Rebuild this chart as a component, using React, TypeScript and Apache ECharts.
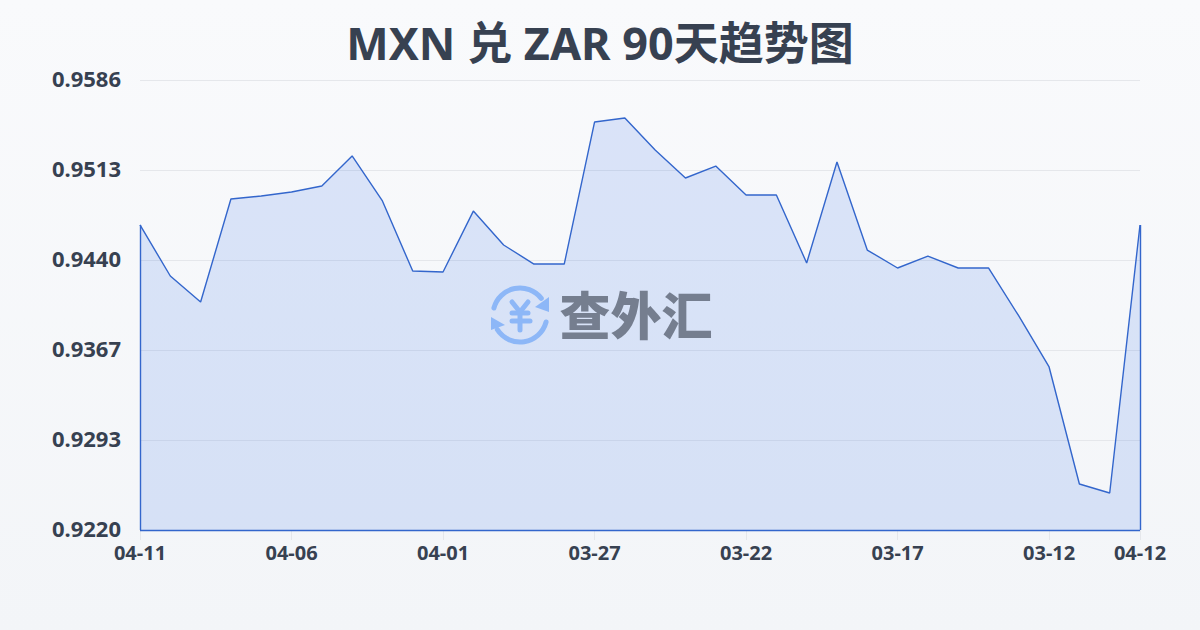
import React, { useEffect, useRef } from "react";
import * as echarts from "echarts";

const titleText = "MXN 兑 ZAR 90天趋势图";
const watermarkText = "查外汇";
const categories = [
  "04-11","04-10","04-09","04-08","04-07","04-06","04-05","04-04","04-03","04-02","04-01",
  "03-31","03-30","03-29","03-28","03-27","03-26","03-25","03-24","03-23","03-22",
  "03-21","03-20","03-19","03-18","03-17","03-16","03-15","03-14","03-13","03-12",
  "03-11","03-10","04-12",
];
const rates = [
  0.94681,0.94266,0.94054,0.94892,0.94917,0.94949,0.94998,0.95242,0.94876,0.94306,0.94298,
  0.94794,0.94518,0.94363,0.94363,0.95518,0.95551,0.95291,0.95063,0.9516,0.94925,
  0.94925,0.94372,0.95193,0.94477,0.94331,0.94428,0.94331,0.94331,0.93941,0.93526,
  0.92574,0.92501,0.94681,
];
const yTicks = [0.922, 0.92932, 0.93664, 0.94396, 0.95128, 0.9586];
const yTickLabels = ["0.9220", "0.9293", "0.9367", "0.9440", "0.9513", "0.9586"];
const yMin = 0.922;
const yMax = 0.9586;

const showIndex = (i: number) => i % 5 === 0 || i === categories.length - 1;

const INK = "#374151";
const BLUE = "#3366cc";
const ICON = "#8db7f7";

const iconLine = (x1: number, y1: number, x2: number, y2: number) => ({
  type: "line",
  shape: { x1, y1, x2, y2 },
  style: { stroke: ICON, lineWidth: 5, lineCap: "round" },
  z: 20,
});

export default function App() {
  const ref = useRef<HTMLDivElement>(null);
  useEffect(() => {
    document.body.style.margin = "0";
    const chart = echarts.init(ref.current!, undefined, { renderer: "svg" });
    const last = categories.length - 1;
    chart.setOption({
      animation: false,
      backgroundColor: "transparent",
      title: {
        text: titleText,
        left: "center",
        top: 15,
        textStyle: {
          color: INK,
          fontSize: 45,
          fontWeight: 700,
          fontFamily: "'Noto Sans', 'Noto Sans CJK SC', sans-serif",
        },
      },
      grid: { left: 140, right: 60, top: 80, bottom: 100 },
      xAxis: {
        type: "category",
        data: categories,
        boundaryGap: false,
        axisLine: { show: false },
        axisTick: {
          show: true,
          length: 10,
          interval: (i: number) => showIndex(i),
          lineStyle: { color: "#e5e7eb", width: 1 },
        },
        axisLabel: {
          interval: (i: number) => showIndex(i),
          color: INK,
          fontSize: 20,
          fontWeight: 700,
          margin: 12,
          fontFamily: "'Noto Sans', sans-serif",
        },
        splitLine: { show: false },
      },
      yAxis: {
        type: "value",
        min: yMin,
        max: yMax,
        axisLine: { show: false },
        axisTick: { show: false, customValues: yTicks },
        axisLabel: {
          customValues: yTicks,
          formatter: (v: number) => yTickLabels[yTicks.findIndex((t) => Math.abs(t - v) < 1e-6)],
          color: INK,
          fontSize: 22,
          fontWeight: 700,
          margin: 19,
          verticalAlign: "bottom",
          lineHeight: 5,
          fontFamily: "'Noto Sans', sans-serif",
        },
        splitLine: { show: true, lineStyle: { color: "#e5e7eb", width: 1 } },
      },
      series: [
        {
          type: "line",
          data: rates,
          symbol: "none",
          smooth: false,
          clip: false,
          lineStyle: { color: BLUE, width: 1.4 },
          areaStyle: { color: "rgba(37,99,235,0.14)", opacity: 1 },
          markLine: {
            silent: true,
            symbol: "none",
            label: { show: false },
            lineStyle: { color: BLUE, width: 1.4, type: "solid" },
            data: [
              [{ coord: [categories[0], yMin] }, { coord: [categories[0], rates[0]] }],
              [{ coord: [categories[0], yMin] }, { coord: [categories[last], yMin] }],
              [{ coord: [categories[last], yMin] }, { coord: [categories[last], rates[last]] }],
            ],
          },
        },
      ],
      graphic: [
        {
          type: "arc",
          shape: { cx: 520, cy: 315, r: 27, startAngle: (-165 * Math.PI) / 180, endAngle: (-38 * Math.PI) / 180, clockwise: true },
          style: { stroke: ICON, lineWidth: 5, fill: "none", lineCap: "round" },
          z: 20,
        },
        {
          type: "arc",
          shape: { cx: 520, cy: 315, r: 27, startAngle: (15 * Math.PI) / 180, endAngle: (147 * Math.PI) / 180, clockwise: true },
          style: { stroke: ICON, lineWidth: 5, fill: "none", lineCap: "round" },
          z: 20,
        },
        { type: "polygon", shape: { points: [[549, 297], [549, 312], [535, 307]] }, style: { fill: ICON }, z: 20 },
        { type: "polygon", shape: { points: [[491, 317], [491, 330], [505, 325]] }, style: { fill: ICON }, z: 20 },
        iconLine(512, 302, 520, 312),
        iconLine(528, 302, 520, 312),
        iconLine(512, 313, 528, 313),
        iconLine(512, 321, 530, 321),
        iconLine(520, 312, 520, 330),
        {
          type: "text",
          x: 636,
          y: 313,
          style: {
            text: watermarkText,
            fill: "#757e8f",
            fontSize: 51,
            fontWeight: 900,
            fontFamily: "'Noto Sans CJK SC', sans-serif",
            textAlign: "center",
            textVerticalAlign: "middle",
          },
          z: 20,
        },
      ],
    });
    return () => chart.dispose();
  }, []);
  return (
    <div
      ref={ref}
      style={{
        width: 1200,
        height: 630,
        background: "linear-gradient(180deg, #f9fafc 0%, #f3f5f8 100%)",
      }}
    />
  );
}
